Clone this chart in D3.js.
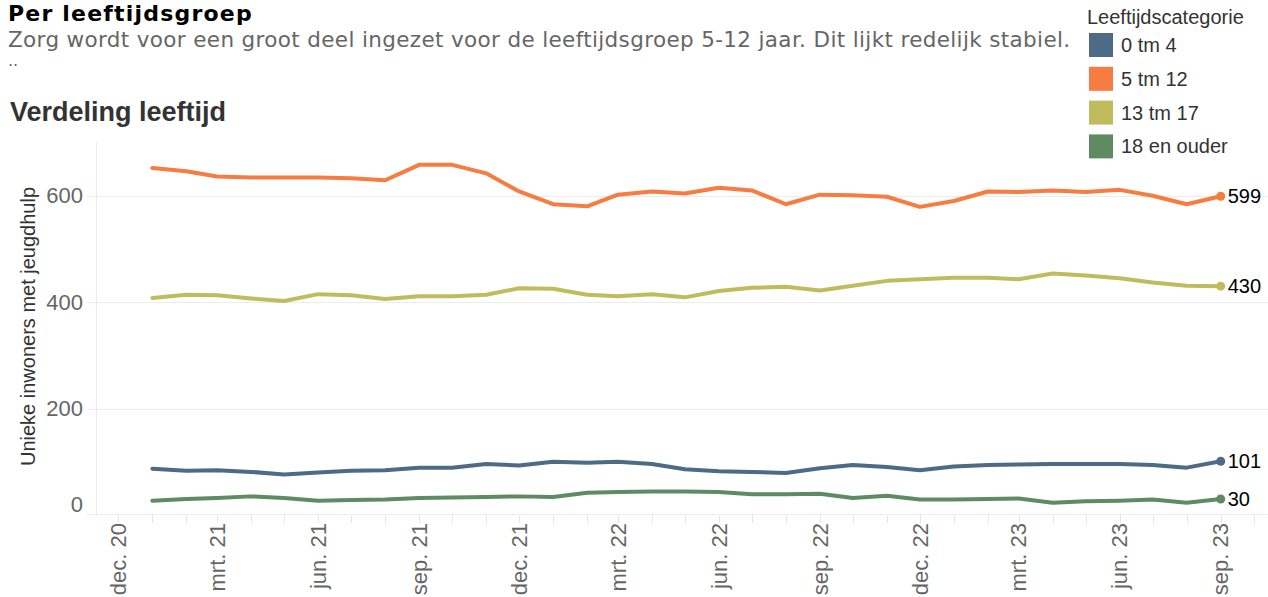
<!DOCTYPE html>
<html>
<head>
<meta charset="utf-8">
<script src="https://cdn.jsdelivr.net/npm/d3@7"></script>
<style>
  html, body { margin: 0; padding: 0; background: #fff; }
  svg { display: block; }
</style>
</head>
<body>
<svg id="chart" width="1268" height="597"></svg>
<script>
// ---- DATA ----
const months = ["2021-01","2021-02","2021-03","2021-04","2021-05","2021-06","2021-07","2021-08","2021-09","2021-10","2021-11","2021-12",
  "2022-01","2022-02","2022-03","2022-04","2022-05","2022-06","2022-07","2022-08","2022-09","2022-10","2022-11","2022-12",
  "2023-01","2023-02","2023-03","2023-04","2023-05","2023-06","2023-07","2023-08","2023-09"];
const categories = ["0 tm 4", "5 tm 12", "13 tm 17", "18 en ouder"];
const colors = ["#4d6a86", "#f77c42", "#c0bc5e", "#5e8b61"];
const values0to4 = [87,83,84,81,76,80,83,84,89,89,96,93,100,98,100,96,86,82,81,79,88,94,90,84,91,94,95,96,96,96,94,89,101];
const values5to12 = [652,646,636,634,634,634,633,629,658,658,642,608,584,580,602,608,604,615,610,584,602,601,598,579,590,608,607,610,607,611,600,584,599];
const values13to17 = [408,414,413,407,402,415,413,406,411,411,414,426,425,414,411,415,409,421,427,429,422,431,440,443,446,446,443,454,450,445,437,431,430];
const values18plus = [27,30,32,35,32,27,28,29,32,33,34,35,34,42,43,44,44,43,39,39,40,32,36,29,29,30,31,23,26,27,29,23,30];
const yTicks = [0, 200, 400, 600];
const monthNames = ["jan.","feb.","mrt.","apr.","mei","jun.","jul.","aug.","sep.","okt.","nov.","dec."];

const title = "Per leeftijdsgroep";
const subtitle = "Zorg wordt voor een groot deel ingezet voor de leeftijdsgroep 5-12 jaar. Dit lijkt redelijk stabiel.";
const subtitle2 = "..";
const chartTitle = "Verdeling leeftijd";
const yTitle = "Unieke inwoners met jeugdhulp";
const legendTitle = "Leeftijdscategorie";

// ---- BUILD ----
const parse = d3.timeParse("%Y-%m");
const dates = months.map(parse);
const seriesValues = [values0to4, values5to12, values13to17, values18plus];
const series = categories.map((c, i) => ({
  name: c, color: colors[i],
  points: dates.map((d, j) => ({ date: d, value: seriesValues[i][j] }))
}));

const svg = d3.select("#chart");
const plotLeft = 96, plotRight = 1268, plotTop = 142, plotBottom = 515;

const x = d3.scaleTime()
  .domain([new Date(2020, 11, 1), new Date(2023, 8, 1)])
  .range([118.3, 1220.7]);
const xDomainFull = [x.invert(plotLeft), x.invert(plotRight)];
const y = d3.scaleLinear().domain([0, 700]).range([plotBottom, plotTop + 0.5]);

const SANS = "Liberation Sans, Arial, sans-serif";
const VERD = "DejaVu Sans, Verdana, sans-serif";

// Titles
svg.append("text").attr("x", 8).attr("y", 21)
  .style("font-family", VERD).style("font-weight", "bold")
  .style("font-size", "22px").style("letter-spacing", "1.2px")
  .attr("fill", "#000").text(title);
svg.append("text").attr("x", 8).attr("y", 46.5)
  .style("font-family", VERD)
  .style("font-size", "21.5px").style("letter-spacing", "0.35px")
  .attr("fill", "#666").text(subtitle);
svg.append("text").attr("x", 8).attr("y", 66)
  .style("font-family", VERD)
  .style("font-size", "16px").attr("fill", "#666").text(subtitle2);
svg.append("text").attr("x", 10).attr("y", 121)
  .style("font-family", SANS).style("font-weight", "bold")
  .style("font-size", "27px").attr("fill", "#333").text(chartTitle);

// Grid
const g = svg.append("g");
g.selectAll("line.grid").data(yTicks.filter(t => t > 0)).join("line")
  .attr("class", "grid")
  .attr("x1", 87).attr("x2", plotRight)
  .attr("y1", d => Math.round(y(d)) + 0.5).attr("y2", d => Math.round(y(d)) + 0.5)
  .attr("stroke", "#ececec").attr("stroke-width", 1);
// y domain line
g.append("line").attr("x1", plotLeft + 0.5).attr("x2", plotLeft + 0.5)
  .attr("y1", plotTop).attr("y2", plotBottom)
  .attr("stroke", "#ececec");
// x domain line
g.append("line").attr("x1", 87).attr("x2", plotRight)
  .attr("y1", plotBottom - 0.5).attr("y2", plotBottom - 0.5)
  .attr("stroke", "#e6e6e6").attr("stroke-dasharray", "3,1");

// y labels
g.selectAll("text.ylab").data(yTicks).join("text")
  .attr("class", "ylab")
  .attr("x", 83).attr("y", d => d === 0 ? y(d) - 3 : y(d))
  .attr("dy", d => d === 0 ? "0" : "0.35em")
  .attr("text-anchor", "end")
  .style("font-family", SANS).style("font-size", "22px")
  .attr("fill", "#666").text(d => d);

// x ticks (monthly)
const allMonths = d3.timeMonth.range(xDomainFull[0], xDomainFull[1]);
g.selectAll("line.xtick").data(allMonths).join("line")
  .attr("class", "xtick")
  .attr("x1", d => Math.round(x(d)) + 0.5).attr("x2", d => Math.round(x(d)) + 0.5)
  .attr("y1", plotBottom).attr("y2", plotBottom + 8)
  .attr("stroke", "#e6e6e6");
const labelMonths = allMonths.filter(d => d.getMonth() % 3 === 2);
g.selectAll("text.xlab").data(labelMonths).join("text")
  .attr("class", "xlab")
  .attr("transform", d => `translate(${x(d)},${plotBottom + 8}) rotate(-90)`)
  .attr("text-anchor", "end").attr("dy", "0.35em")
  .style("font-family", SANS).style("font-size", "22px")
  .attr("fill", "#666")
  .text(d => monthNames[d.getMonth()] + " " + d3.timeFormat("%y")(d));

// y title
svg.append("text")
  .attr("transform", `translate(35,${(plotTop + plotBottom) / 2 - 2}) rotate(-90)`)
  .attr("text-anchor", "middle")
  .style("font-family", SANS).style("font-size", "20px")
  .attr("fill", "#333").text(yTitle);

// lines
const line = d3.line().x(d => x(d.date)).y(d => y(d.value));
const sg = svg.append("g");
sg.selectAll("path.series").data(series).join("path")
  .attr("class", "series")
  .attr("d", d => line(d.points))
  .attr("fill", "none").attr("stroke", d => d.color)
  .attr("stroke-width", 4).attr("stroke-linejoin", "round").attr("stroke-linecap", "round");
sg.selectAll("circle.end").data(series).join("circle")
  .attr("class", "end")
  .attr("cx", d => x(d.points[d.points.length - 1].date))
  .attr("cy", d => y(d.points[d.points.length - 1].value))
  .attr("r", 4.5).attr("fill", d => d.color);
sg.selectAll("text.endlab").data(series).join("text")
  .attr("class", "endlab")
  .attr("x", d => x(d.points[d.points.length - 1].date) + 7)
  .attr("y", d => y(d.points[d.points.length - 1].value))
  .attr("dy", "0.35em")
  .style("font-family", SANS).style("font-size", "20px")
  .attr("fill", "#000").text(d => d.points[d.points.length - 1].value);

// legend
const lg = svg.append("g").attr("transform", "translate(1087,0)");
lg.append("text").attr("x", 0).attr("y", 24)
  .style("font-family", SANS).style("font-size", "20px")
  .attr("fill", "#333").text(legendTitle);
const items = lg.selectAll("g.item").data(series).join("g")
  .attr("class", "item")
  .attr("transform", (d, i) => `translate(0,${45 + i * 33.8})`);
items.append("rect").attr("x", 2).attr("y", -12).attr("width", 24).attr("height", 24)
  .attr("fill", d => d.color);
items.append("text").attr("x", 34).attr("y", 0).attr("dy", "0.35em")
  .style("font-family", SANS).style("font-size", "20px")
  .attr("fill", "#333").text(d => d.name);
</script>
</body>
</html>
